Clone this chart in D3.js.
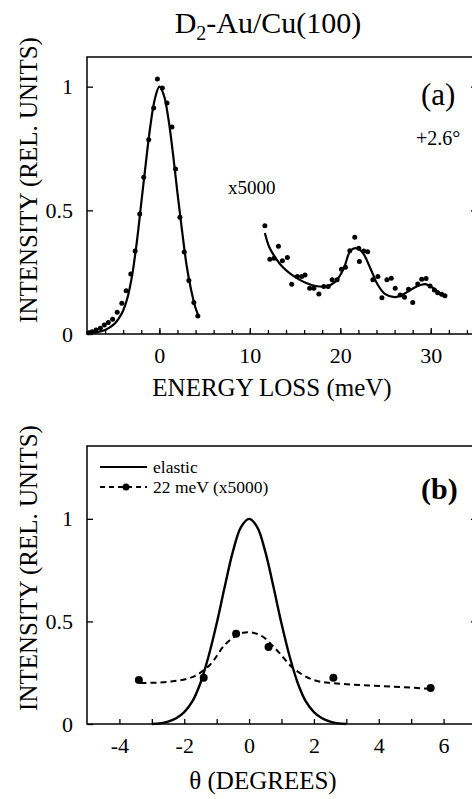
<!DOCTYPE html>
<html lang="en">
	<head>
		<meta charset="utf-8">
		<title>D2-Au/Cu(100)</title>
		<script type="text/javascript" src="https://cdn.jsdelivr.net/npm/d3@7"></script>
		<style type="text/css">
			body { margin: 0; background: white; }
		</style>
	</head>
	<body>
		<script type="text/javascript">

			//Width and height
			var w = 472;
			var h = 799;
			var font = "'Liberation Serif'";

			// panel (a): elastic peak, measured points
			var elasticEnergy = [-7.8, -7.45, -7.0, -6.53, -6.09, -5.65, -5.17, -4.66, -4.15, -3.67, -3.16, -2.68, -2.17,
								 -1.73, -1.18, -0.63, -0.22, 0.33, 0.84, 1.39, 1.79, 2.27, 2.75, 3.26, 3.81, 4.25];
			var elasticCounts = [0.005, 0.009, 0.016, 0.023, 0.036, 0.046, 0.060, 0.088, 0.124, 0.175, 0.243, 0.336, 0.485,
								 0.634, 0.785, 0.914, 1.031, 0.995, 0.934, 0.837, 0.667, 0.472, 0.332, 0.216, 0.127, 0.073];
			// panel (a): elastic fit
			var elasticFitE = [-8, -7, -6, -5, -4.5, -4, -3.5, -3, -2.5, -2, -1.5, -1, -0.5, 0, 0.5, 1, 1.5, 2, 2.5, 3, 3.5, 4, 4.3];
			var elasticFitI = [0.002, 0.006, 0.016, 0.04, 0.062, 0.095, 0.15, 0.24, 0.37, 0.53, 0.69, 0.84, 0.95, 1.0,
							   0.965, 0.87, 0.73, 0.57, 0.42, 0.28, 0.18, 0.105, 0.075];

			// panel (a): loss region x5000, measured points
			var lossEnergy = [11.66, 12.21, 12.68, 13.16, 13.6, 14.15, 14.63, 15.25, 15.73, 16.1, 16.61, 17.08, 17.63, 18.18,
							  18.66, 19.1, 19.65, 20.13, 20.57, 21.05, 21.6, 22.04, 22.11, 22.59, 23.03, 23.6, 24.16, 24.6,
							  25.15, 25.63, 26.07, 26.62, 27.1, 27.54, 28.01, 28.56, 29.0, 29.48, 29.92, 30.4, 30.76, 31.2, 31.57];
			var lossCounts = [0.438, 0.302, 0.306, 0.355, 0.296, 0.309, 0.201, 0.232, 0.232, 0.239, 0.185, 0.185, 0.162, 0.192,
							  0.192, 0.219, 0.219, 0.262, 0.27, 0.337, 0.391, 0.347, 0.293, 0.336, 0.333, 0.219, 0.232, 0.147,
							  0.219, 0.225, 0.185, 0.158, 0.149, 0.181, 0.127, 0.202, 0.221, 0.224, 0.194, 0.178, 0.167, 0.161, 0.155];
			// panel (a): loss fit
			var lossFitE = [11.66, 12.13, 12.87, 13.6, 14.5, 15.43, 16.3, 17.27, 18.37, 19.47, 20.39, 21.12, 21.74, 22.4,
							23.32, 24.05, 24.97, 26.07, 27.17, 28.27, 29.37, 30.29, 31.2, 31.57];
			var lossFitI = [0.408, 0.353, 0.306, 0.272, 0.243, 0.221, 0.205, 0.194, 0.192, 0.212, 0.266, 0.337, 0.347, 0.333,
							0.266, 0.205, 0.161, 0.149, 0.165, 0.189, 0.202, 0.185, 0.158, 0.151];

			// panel (b): angular distributions
			var elasticAngle = [-3, -2.75, -2.5, -2.25, -2, -1.75, -1.5, -1.25, -1, -0.75, -0.5, -0.25, 0,
								0.25, 0.5, 0.75, 1, 1.25, 1.5, 1.75, 2, 2.25, 2.5, 2.75, 3];
			var elasticAngleI = [0, 0.003, 0.012, 0.028, 0.058, 0.11, 0.2, 0.33, 0.49, 0.67, 0.84, 0.96, 1.0,
								 0.96, 0.84, 0.67, 0.49, 0.33, 0.2, 0.11, 0.058, 0.028, 0.012, 0.003, 0];
			var lossAngle = [-3.4, -1.4, -0.4, 0.6, 2.6, 5.6];
			var lossAngleI = [0.215, 0.225, 0.44, 0.375, 0.225, 0.175];
			var lossAngleFitX = [-3.35, -2.45, -1.73, -1.21, -0.7, -0.19, 0.33, 0.85, 1.36, 1.98, 2.59, 3.42, 4.44, 5.68];
			var lossAngleFitY = [0.2, 0.206, 0.23, 0.288, 0.394, 0.445, 0.434, 0.361, 0.272, 0.215, 0.199, 0.19, 0.182, 0.171];

			var yTicks = [0, 0.5, 1];
			var energyTicks = [0, 10, 20, 30];
			var angleTicks = [-4, -2, 0, 2, 4, 6];

			var zip = function(xs, ys) {
				return xs.map(function(d, i) { return [d, ys[i]]; });
			};
			var plain = function(d) { return String(d); };	// keep "-4", not the unicode minus

			//Create SVG element
			var svg = d3.select("body")
						.append("svg")
						.attr("width", w)
						.attr("height", h)
						.style("font-family", font);

			// title
			var title = svg.append("text")
				.attr("x", 268)
				.attr("y", 33)
				.attr("text-anchor", "middle")
				.style("font-size", "30px");
			title.append("tspan").text("D");
			title.append("tspan").style("font-size", "20px").attr("dy", 7).text("2");
			title.append("tspan").attr("dy", -7).text("-Au/Cu(100)");

			function styleAxis(g) {
				g.select(".domain").remove();
				g.style("font-family", font);
				g.selectAll("line").attr("stroke-width", 1.3);
				g.selectAll("text").style("font-size", "22px");
			}

			//Draw one framed panel, returns scales
			function panel(top, bottom, xDomain, yDomain) {
				var xScale = d3.scaleLinear().domain(xDomain).range([87, 476]);
				var yScale = d3.scaleLinear().domain(yDomain).range([bottom, top]);
				svg.append("rect")
					.attr("x", 87)
					.attr("y", top)
					.attr("width", 476 - 87)
					.attr("height", bottom - top)
					.attr("fill", "none")
					.attr("stroke", "black")
					.attr("stroke-width", 1.5);

				svg.append("g")
					.attr("transform", "translate(87,0)")
					.call(d3.axisLeft(yScale).tickValues(yTicks).tickSize(-6).tickPadding(14).tickFormat(plain))
					.call(styleAxis);
				svg.append("g")
					.attr("transform", "translate(476,0)")
					.call(d3.axisRight(yScale).tickValues([0.5, 1]).tickSize(-5).tickFormat(""))
					.call(styleAxis);
				return { x: xScale, y: yScale };
			}

			// ---------- panel (a)
			var a = panel(57, 334, [-8, 35], [0, 1.12]);

			svg.append("g")
				.attr("transform", "translate(0,334)")
				.call(d3.axisBottom(a.x).tickValues(energyTicks).tickSize(-6).tickPadding(13).tickFormat(plain))
				.call(styleAxis);
			svg.append("g")
				.attr("transform", "translate(0,334)")
				.call(d3.axisBottom(a.x).tickValues(d3.range(-6, 35, 2)).tickSize(-4).tickFormat(""))
				.call(styleAxis);

			var lineA = d3.line()
				.x(function(d) { return a.x(d[0]); })
				.y(function(d) { return a.y(d[1]); })
				.curve(d3.curveCatmullRom);

			svg.append("path")
				.datum(zip(elasticFitE, elasticFitI))
				.attr("d", lineA)
				.attr("fill", "none")
				.attr("stroke", "black")
				.attr("stroke-width", 2.2);
			svg.append("path")
				.datum(zip(lossFitE, lossFitI))
				.attr("d", lineA)
				.attr("fill", "none")
				.attr("stroke", "black")
				.attr("stroke-width", 2.2);

			svg.selectAll("circle.pa")
			   .data(zip(elasticEnergy, elasticCounts).concat(zip(lossEnergy, lossCounts)))
			   .enter()
			   .append("circle")
			   .attr("class", "pa")
			   .attr("cx", function(d) { return a.x(d[0]); })
			   .attr("cy", function(d) { return a.y(d[1]); })
			   .attr("r", 2.5)
			   .attr("fill", "black");

			svg.append("text").attr("x", 228).attr("y", 194).style("font-size", "19px").text("x5000");
			svg.append("text").attr("x", 416).attr("y", 145).style("font-size", "20px").text("+2.6°");
			svg.append("text").attr("x", 421).attr("y", 105).style("font-size", "31px").text("(a)");

			svg.append("text")
				.attr("x", 272)
				.attr("y", 396)
				.attr("text-anchor", "middle")
				.style("font-size", "25px")
				.text("ENERGY LOSS (meV)");
			svg.append("text")
				.attr("transform", "translate(37,180) rotate(-90)")
				.attr("text-anchor", "middle")
				.style("font-size", "25px")
				.text("INTENSITY (REL. UNITS)");

			// ---------- panel (b)
			var b = panel(446, 724, [-5, 7], [0, 1.355]);

			svg.append("g")
				.attr("transform", "translate(0,724)")
				.call(d3.axisBottom(b.x).tickValues(angleTicks).tickSize(-5).tickPadding(13).tickFormat(plain))
				.call(styleAxis);
			svg.append("g")
				.attr("transform", "translate(0,724)")
				.call(d3.axisBottom(b.x).tickValues([-3, -1, 1, 3, 5]).tickSize(-5).tickFormat(""))
				.call(styleAxis);

			var lineB = d3.line()
				.x(function(d) { return b.x(d[0]); })
				.y(function(d) { return b.y(d[1]); })
				.curve(d3.curveCatmullRom);

			svg.append("path")
				.datum(zip(elasticAngle, elasticAngleI))
				.attr("d", lineB)
				.attr("fill", "none")
				.attr("stroke", "black")
				.attr("stroke-width", 2.4);
			svg.append("path")
				.datum(zip(lossAngleFitX, lossAngleFitY))
				.attr("d", lineB)
				.attr("fill", "none")
				.attr("stroke", "black")
				.attr("stroke-width", 2)
				.attr("stroke-dasharray", "6,4");

			svg.selectAll("circle.pb")
			   .data(zip(lossAngle, lossAngleI))
			   .enter()
			   .append("circle")
			   .attr("class", "pb")
			   .attr("cx", function(d) { return b.x(d[0]); })
			   .attr("cy", function(d) { return b.y(d[1]); })
			   .attr("r", 4)
			   .attr("fill", "black");

			//Legend
			svg.append("line").attr("x1", 100).attr("x2", 147).attr("y1", 467).attr("y2", 467)
				.attr("stroke", "black").attr("stroke-width", 2);
			svg.append("line").attr("x1", 100).attr("x2", 147).attr("y1", 487).attr("y2", 487)
				.attr("stroke", "black").attr("stroke-width", 2).attr("stroke-dasharray", "5,4");
			svg.append("circle").attr("cx", 126).attr("cy", 487).attr("r", 3.5).attr("fill", "black");
			svg.append("text").attr("x", 153).attr("y", 473).style("font-size", "17.5px").text("elastic");
			svg.append("text").attr("x", 153).attr("y", 493).style("font-size", "17.5px").text("22 meV (x5000)");

			svg.append("text").attr("x", 421).attr("y", 499).style("font-size", "30px")
				.style("font-weight", "bold").text("(b)");

			svg.append("text")
				.attr("x", 263)
				.attr("y", 789)
				.attr("text-anchor", "middle")
				.style("font-size", "25px")
				.text("θ (DEGREES)");
			svg.append("text")
				.attr("transform", "translate(37,568) rotate(-90)")
				.attr("text-anchor", "middle")
				.style("font-size", "25px")
				.text("INTENSITY (REL. UNITS)");

		</script>
	</body>
</html>
